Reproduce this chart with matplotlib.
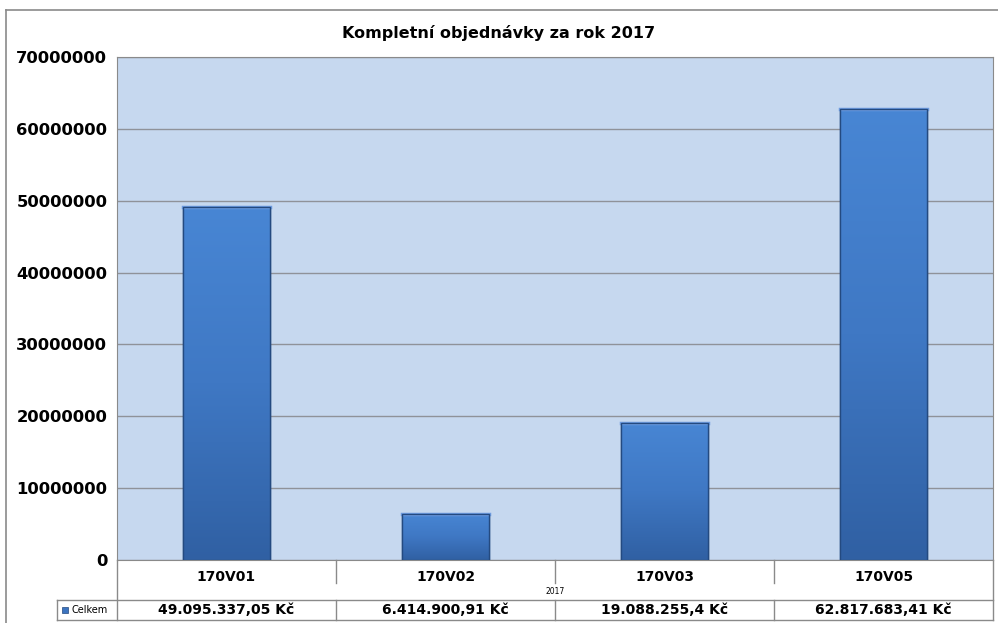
import numpy as np
import matplotlib.pyplot as plt
from matplotlib.patches import Rectangle
from matplotlib.lines import Line2D

# data
categories = ['170V01', '170V02', '170V03', '170V05']
values = [49095337.05, 6414900.91, 19088255.4, 62817683.41]
value_labels = ['49.095.337,05 Kč', '6.414.900,91 Kč', '19.088.255,4 Kč', '62.817.683,41 Kč']
yticks = [0, 10000000, 20000000, 30000000, 40000000, 50000000, 60000000, 70000000]
title = 'Kompletní objednávky za rok 2017'
series_name = 'Celkem'
group_label = '2017'

W, H = 998, 623
fig = plt.figure(figsize=(W / 100, H / 100), dpi=100)

def fx(px):
    return px / W

def fy(py):
    return 1 - py / H

lc = '#8a8a8a'
# outer frame (only left and top edges are visible)
fig.add_artist(Line2D([fx(6), fx(6)], [fy(623), fy(10)], color=lc, lw=1.2))
fig.add_artist(Line2D([fx(6), fx(998)], [fy(10), fy(10)], color=lc, lw=1.2))

left, right, top, bottom = 117, 993, 57, 560
ax = fig.add_axes([fx(left), fy(bottom), fx(right - left), fy(top) - fy(bottom)])
ax.set_facecolor('#c6d8ef')
x = np.arange(len(categories))
ax.set_yticks(yticks)
ax.set_yticklabels([str(t) for t in yticks], fontweight='bold', fontsize=11.8)
ax.tick_params(axis='y', length=0, pad=7)
ax.set_xticks([])
ax.yaxis.grid(True, color='#8f9299', lw=1)
ax.set_axisbelow(True)
for s in ax.spines.values():
    s.set_color(lc)

bars = ax.bar(x, values, width=0.4, color='#3c74c0', edgecolor='#274f86', lw=1, zorder=2)
grad = np.linspace(0, 1, 256).reshape(-1, 1)
cmap = plt.matplotlib.colors.LinearSegmentedColormap.from_list('b', ['#3060a3', '#3f78c4', '#4886d4'])
for b in bars:
    bx, bw, bh = b.get_x(), b.get_width(), b.get_height()
    im = ax.imshow(grad, extent=[bx, bx + bw, 0, bh], origin='lower', cmap=cmap,
                   aspect='auto', zorder=2.5)
    im.set_clip_path(b)
    ax.add_line(Line2D([bx, bx + bw], [bh, bh], color='#6d9be0', lw=2.5, zorder=3))
    ax.add_patch(Rectangle((bx, 0), bw, bh, fill=False, edgecolor='#244a80', lw=1, zorder=3.5))
ax.set_xlim(-0.5, len(categories) - 0.5)
ax.set_ylim(0, 70000000)

fig.text(0.5, fy(33), title, ha='center', va='center', fontsize=11.5, fontweight='bold')

# data table below the plot
row1_top, row1_bot, row2_bot = 560, 600, 620
cell_w = (right - left) / len(categories)
def hline(y0, x0, x1):
    fig.add_artist(Line2D([fx(x0), fx(x1)], [fy(y0), fy(y0)], color=lc, lw=1))
def vline(xp, y0, y1):
    fig.add_artist(Line2D([fx(xp), fx(xp)], [fy(y0), fy(y1)], color=lc, lw=1))

hline(row1_bot, 57, right)
hline(row2_bot, 57, right)
vline(left, row1_top, row2_bot)
vline(right, row1_top, row2_bot)
vline(57, row1_bot, row2_bot)
for i in range(1, len(categories)):
    vline(left + i * cell_w, row1_top, 583)
    vline(left + i * cell_w, row1_bot, row2_bot)
for i, (c, v) in enumerate(zip(categories, value_labels)):
    cx = left + (i + 0.5) * cell_w
    fig.text(fx(cx), fy(577), c, ha='center', va='center', fontsize=10, fontweight='bold')
    fig.text(fx(cx), fy(610), v, ha='center', va='center', fontsize=10, fontweight='bold')
fig.text(fx(left + 2 * cell_w), fy(591), group_label, ha='center', va='center', fontsize=5.5)
fig.add_artist(Rectangle((fx(62), fy(613)), fx(6), fy(607) - fy(613), transform=fig.transFigure,
                         facecolor='#3c74c0', edgecolor='#244a80', lw=0.5))
fig.text(fx(71), fy(610), series_name, ha='left', va='center', fontsize=7)

fig.savefig('out.png', dpi=100)
